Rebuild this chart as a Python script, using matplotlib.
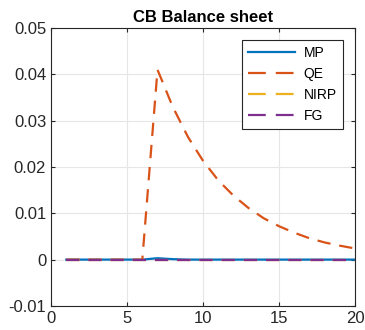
import matplotlib
matplotlib.use("Agg")
import matplotlib.pyplot as plt

plt.rcParams['font.family'] = ['Liberation Sans', 'DejaVu Sans']

periods = list(range(1, 21))
mp = [0, 0, 0, 0, 0, 0, 0.0003, 0.0001, 0, 0, 0, 0, 0, 0, 0, 0, 0, 0, 0, 0]
qe = [0, 0, 0, 0, 0, 0, 0.0410, 0.0330, 0.0265, 0.0213, 0.0171, 0.0138, 0.0111,
      0.0089, 0.0072, 0.0058, 0.0046, 0.0037, 0.0030, 0.0024]
nirp = [0] * 20
fg = [0] * 20

fig = plt.figure(figsize=(3.65, 3.3), dpi=100)
ax = fig.add_axes([0.14, 0.073, 0.833, 0.842])

ax.plot(periods, mp, color='#0072BD', lw=1.6, label='MP')
ax.plot(periods, qe, color='#D95319', lw=1.6, ls=(0, (6, 4)), label='QE')
ax.plot(periods, nirp, color='#EDB120', lw=1.6, ls=(0, (6, 4)), label='NIRP')
ax.plot(periods, fg, color='#7E2F8E', lw=1.6, ls=(0, (6, 4)), label='FG')

ax.set_xlim(0, 20)
ax.set_ylim(-0.01, 0.05)
ax.set_xticks([0, 5, 10, 15, 20])
ax.set_yticks([-0.01, 0, 0.01, 0.02, 0.03, 0.04, 0.05])
ax.set_yticklabels(['-0.01', '0', '0.01', '0.02', '0.03', '0.04', '0.05'])
ax.grid(True, color='#e6e6e6', lw=0.8)
ax.set_axisbelow(True)
ax.tick_params(direction='in', labelsize=12, colors='#262626', length=3,
               top=True, right=True)
for s in ax.spines.values():
    s.set_color('#262626')
    s.set_linewidth(0.8)
ax.set_title('CB Balance sheet', fontsize=12, fontweight='bold', pad=4)

leg = ax.legend(loc='upper right', bbox_to_anchor=(0.96, 0.957), fontsize=10,
                borderaxespad=0, handlelength=3.4, handletextpad=0.6,
                labelspacing=0.5, borderpad=0.45,
                fancybox=False, framealpha=1, edgecolor='#262626')
leg.get_frame().set_linewidth(0.8)
# longer dashes in the legend keys, as in the original
for h in leg.get_lines()[1:]:
    h.set_linestyle((0, (8, 4.5)))

fig.savefig('out.png', dpi=100)
